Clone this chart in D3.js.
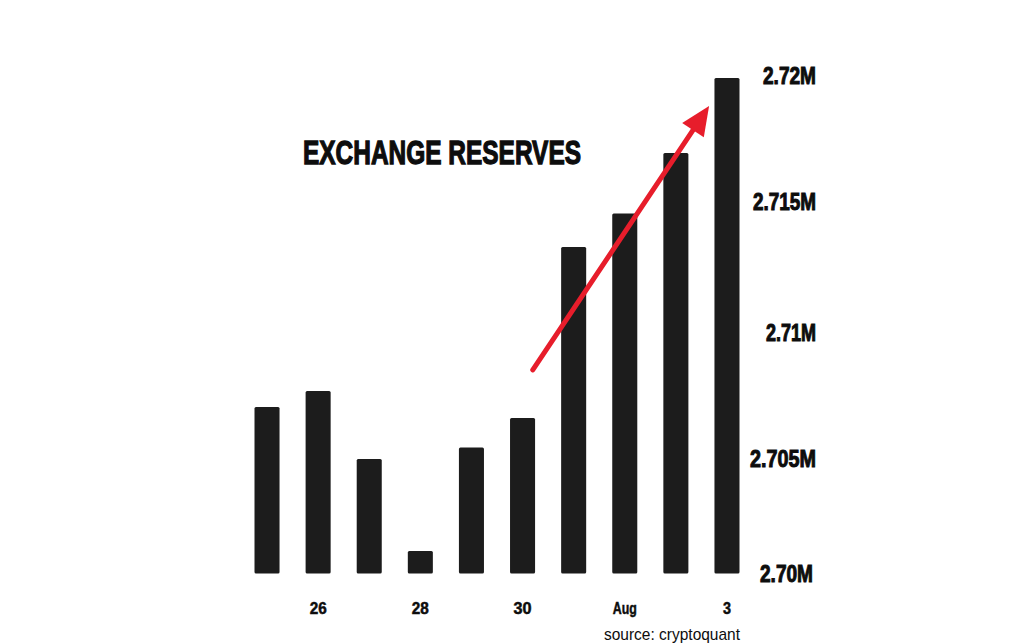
<!DOCTYPE html>
<html>
<head>
<meta charset="utf-8">
<script src="https://cdn.jsdelivr.net/npm/d3@7"></script>
<style>
  html, body { margin: 0; background: #fff; }
  svg { display: block; }
  text { font-family: "Liberation Sans", sans-serif; font-weight: 700; fill: #0d0d0d; }
  .tick line, .domain { display: none; }
</style>
</head>
<body>
<svg id="chart"></svg>
<script>
var days = ["Jul 25", "26", "Jul 27", "28", "Jul 29", "30", "Jul 31", "Aug", "Aug 2", "3"];
var reserves = [2.70706, 2.70769, 2.705, 2.70098, 2.70545, 2.70662, 2.71328, 2.71456, 2.71694, 2.71992];
var dayLabels = ["26", "28", "30", "Aug", "3"];
var reserveTicks = [2.70, 2.705, 2.71, 2.715, 2.72];
var reserveLabels = ["2.70M", "2.705M", "2.71M", "2.715M", "2.72M"];
// arrow ends: [position along the days, reserve value]
var arrowFrom = [5.2, 2.70852];
var arrowTo = [8.65, 2.71881];

var width = 1015, height = 643;

// squeezed text widths, the narrow display font of the picture is not installed
var reserveLabelWidths = [53, 66, 50, 63, 53];
var dayLabelWidths = [17, 17, 18, 24, 8];

var svg = d3.select("#chart").attr("width", width).attr("height", height);

var x = d3.scaleBand().domain(days).range([254.5, 739.5]).paddingInner(0.51).paddingOuter(0);
var dayPos = d3.scaleLinear()
  .domain([0, days.length - 1])
  .range([x(days[0]) + x.bandwidth() / 2, x(days[days.length - 1]) + x.bandwidth() / 2]);

// the label spacing in the picture is uneven, so the scale follows it
var y = d3.scaleLinear().domain(reserveTicks).range([573.5, 459, 332.5, 202, 76]);

svg.selectAll("rect.bar")
  .data(reserves)
  .enter()
  .append("rect")
  .attr("class", "bar")
  .attr("x", function(d, i) { return x(days[i]); })
  .attr("y", function(d) { return y(d); })
  .attr("width", x.bandwidth())
  .attr("height", function(d) { return y(reserveTicks[0]) - y(d); })
  .attr("rx", 1.5)
  .attr("fill", "#1c1c1c");

var yAxis = d3.axisRight(y)
  .tickValues(reserveTicks)
  .tickSize(0)
  .tickPadding(0)
  .tickFormat(function(d, i) { return reserveLabels[i]; });

svg.append("g")
  .attr("transform", "translate(816,0)")
  .call(yAxis)
  .selectAll("text")
  .attr("text-anchor", "end")
  .attr("dx", function(d, i) { return i == 0 ? -3 : 0; })
  .attr("textLength", function(d, i) { return reserveLabelWidths[i]; })
  .attr("lengthAdjust", "spacingAndGlyphs")
  .style("font-size", "24px")
  .style("stroke", "#0d0d0d")
  .style("stroke-width", "1px");

var xAxis = d3.axisBottom(x)
  .tickValues(dayLabels)
  .tickSize(0)
  .tickPadding(0);

svg.append("g")
  .attr("transform", "translate(0,603)")
  .call(xAxis)
  .selectAll("text")
  .attr("textLength", function(d, i) { return dayLabelWidths[i]; })
  .attr("lengthAdjust", "spacingAndGlyphs")
  .style("font-size", "16px")
  .style("stroke", "#0d0d0d")
  .style("stroke-width", "0.5px");

svg.append("text")
  .attr("x", 303)
  .attr("y", 164)
  .attr("textLength", 278)
  .attr("lengthAdjust", "spacingAndGlyphs")
  .style("font-size", "34px")
  .style("stroke", "#0d0d0d")
  .style("stroke-width", "1.3px")
  .text("EXCHANGE RESERVES");

svg.append("text")
  .attr("x", 604)
  .attr("y", 639.5)
  .attr("textLength", 136)
  .attr("lengthAdjust", "spacingAndGlyphs")
  .style("font-size", "17px")
  .style("font-weight", "400")
  .text("source: cryptoquant");

// arrow line, stopped short of the head
var ax0 = dayPos(arrowFrom[0]), ay0 = y(arrowFrom[1]);
var ax1 = dayPos(arrowTo[0]), ay1 = y(arrowTo[1]);
var angle = Math.atan2(ay1 - ay0, ax1 - ax0);
var headLen = 29, headHalf = 13;
var bx = ax1 - headLen * Math.cos(angle), by = ay1 - headLen * Math.sin(angle);

svg.append("path")
  .attr("d", d3.line()([[ax0, ay0], [bx, by]]))
  .attr("stroke", "#e71d2b")
  .attr("stroke-width", 5)
  .attr("stroke-linecap", "round")
  .attr("fill", "none");

svg.append("path")
  .attr("d", d3.line()([
    [ax1, ay1],
    [bx - headHalf * Math.sin(angle), by + headHalf * Math.cos(angle)],
    [bx + headHalf * Math.sin(angle), by - headHalf * Math.cos(angle)]
  ]) + "Z")
  .attr("fill", "#e71d2b");
</script>
</body>
</html>
